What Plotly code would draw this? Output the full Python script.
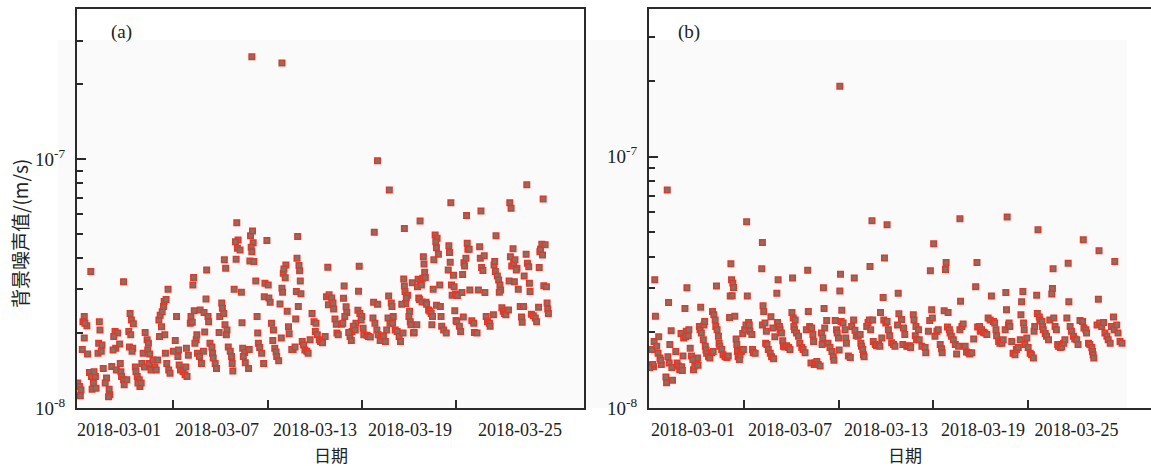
import pandas as pd
import plotly.graph_objects as go

# ---------------- data (hours since 2018-02-22 00:00, values in units of 1e-8 m/s) -------------
START = "2018-02-22"

hours_a = [32,30,36,32,29,37,22,25,27,26,42,33,40,43,46,44,50,55,56,54,59,53,58,61,66,64,70,71,69,49,47,
           79,83,77,80,76,86,74,81,87,88,89,92,93,97,92,102,104,107,100,103,101,106,105,
           110,111,113,116,117,122,125,128,130,129,132,120,124,131,134,114,119,
           140,142,137,144,147,150,146,148,151,153,154,157,155,156,160,158,161,163,
           171,173,168,176,175,177,179,183,186,189,187,191,188,199,198,203,201,194,195,200,197,
           204,205,208,211,214,209,215,219,218,221,222,216,224,227,228,229,232,234,
           238,239,242,243,245,247,250,249,252,255,257,258,259,246,248,264,265,267,263,266,270,261,272,273,
           274,277,275,278,283,284,286,289,290,287,288,285,291,294,296,297,298,300,303,306,311,308,313,
           307,314,316,318,321,320,323,325,326,329,331,334,335,336,340,339,337,342,344,345,333,
           351,349,354,358,357,360,361,362,356,363,359,355,365,367,369,372,374,377,
           380,383,386,385,388,391,393,396,400,402,404,405,406,
           288,334,
           410,413,412,429,428,432,433,430,415,417,418,420,425,427,
           452,451,450,453,456,455,447,443,441,438,440,436,446,458,459,464,466,469,
           475,474,480,473,476,479,481,486,484,489,492,498,480,497,501,502,496,499,504,503,494,
           507,510,513,515,519,521,520,521,522,526,524,523,517,529,528,530,531,535,536,540,533,545,
           542,546,541,549,547,550,551,552,553,543,544,548,554,555,558,560,562,564,563,568,571,569,570,573,
           566,565,570,575,576,577,578,581,585,
           592,589,590,591,588,596,593,597,594,599,602,609,598,600,601,605,607,611,610,612,613,615,616,617,618,620,
           621,624,627,628,632,634,636,638,637,639,641,643,644,646,648,651,652,657,
           661,658,660,659,663,665,667,668,666,670,672,674,676,680,682,684,681,687,683,685,688,690,689,
           693,692,695,698,700,701,703,704,708,707,709,711,712,713,715,718,721,723,726,727,728,729,731,732,733,
           734,736,738,739,740,741]
vals_a = [2.33,2.22,2.14,1.91,1.72,1.65,1.26,1.22,1.18,1.12,3.54,2.19,1.39,1.34,1.26,1.19,1.20,2.22,2.06,1.82,1.79,1.66,1.69,1.44,1.32,1.26,1.19,1.13,1.11,1.34,1.40,
          2.03,2.00,1.94,1.74,1.71,1.81,1.47,1.42,1.51,1.40,1.34,1.30,1.24,1.30,3.22,2.40,2.26,2.18,2.03,1.97,1.76,1.74,1.69,
          1.46,1.40,1.34,1.30,1.22,1.66,2.01,1.88,1.82,1.71,1.65,1.51,1.46,1.51,1.42,1.26,1.26,
          1.46,1.42,1.56,1.56,1.94,2.12,2.26,2.36,2.44,2.56,2.68,2.73,1.97,1.66,3.00,1.51,1.42,1.38,
          1.87,2.33,1.69,1.71,1.61,1.49,1.42,1.40,1.36,1.34,1.46,1.63,1.74,3.35,3.12,1.88,1.82,2.19,2.33,2.46,2.21,
          1.97,1.66,1.61,1.51,1.69,2.48,2.42,3.59,2.74,2.33,2.22,2.02,1.82,1.76,1.66,1.59,1.51,1.44,
          2.01,2.33,2.64,2.52,2.40,2.16,2.06,1.97,1.76,1.69,1.61,1.51,1.41,3.94,3.65,3.96,5.56,4.74,4.66,4.39,4.32,3.00,2.92,2.20,
          1.74,1.67,1.61,1.52,1.44,1.72,4.92,5.15,4.62,4.43,4.25,3.90,3.88,3.24,2.33,2.00,1.82,1.75,1.66,1.51,4.71,3.17,3.12,
          2.80,2.77,2.66,2.19,2.06,1.87,1.74,1.68,1.61,1.55,2.62,3.03,2.92,3.48,3.76,3.34,3.62,2.45,2.12,1.99,1.91,
          1.72,1.72,1.76,4.89,4.00,3.74,3.56,3.24,2.94,2.88,2.56,2.28,1.85,1.79,1.71,1.69,1.66,1.88,
          2.40,2.22,2.19,2.03,1.97,1.88,1.85,1.83,1.94,2.80,3.68,2.60,2.85,
          25.8,24.4,
          2.77,2.50,2.64,3.09,2.76,2.55,2.42,2.33,2.28,2.17,2.00,1.97,2.17,2.19,
          3.71,2.95,2.47,2.40,2.33,2.26,2.19,2.13,2.03,1.94,1.87,2.01,2.06,2.09,1.97,1.96,1.94,1.93,
          5.09,2.66,2.61,2.30,2.19,2.06,1.97,1.95,1.87,1.94,1.85,7.53,9.87,2.82,2.64,2.56,2.30,2.19,2.33,2.19,2.06,
          2.06,2.03,1.94,1.85,2.00,5.27,3.30,3.09,2.94,2.84,2.77,2.63,2.61,2.45,2.33,2.22,2.16,2.00,2.01,2.16,3.19,5.64,
          3.29,3.24,3.07,3.32,3.12,4.06,3.79,3.51,3.35,2.77,2.73,2.67,2.66,2.61,2.48,2.45,2.40,2.33,2.16,4.96,4.81,4.66,4.41,4.15,
          3.94,3.00,2.59,3.12,2.56,2.33,2.13,2.06,2.00,
          6.69,4.49,4.22,3.85,3.59,3.42,3.12,3.07,2.84,2.87,2.83,2.91,2.46,2.25,2.22,2.13,2.03,2.32,3.44,3.84,3.72,4.00,5.94,4.59,4.35,4.35,
          2.98,2.24,2.19,2.01,2.00,2.98,4.45,6.20,4.00,3.67,3.57,4.09,2.91,2.33,2.22,2.19,2.13,2.37,
          4.92,3.76,3.54,3.88,3.39,3.27,3.12,2.98,2.92,2.53,2.45,2.40,2.37,2.48,6.69,6.35,3.24,4.37,4.06,3.72,3.82,3.94,3.22,
          3.65,3.59,3.00,2.56,2.32,2.21,2.56,3.39,7.90,4.15,3.82,3.70,3.17,2.94,2.38,2.35,2.30,2.22,2.54,3.67,4.25,4.35,4.55,4.12,6.92,
          3.10,4.53,3.07,2.64,2.50,2.40]

hours_b = [22,26,30,29,24,32,33,31,28,35,37,38,40,42,41,49,50,53,55,57,52,54,58,59,
           64,66,68,70,73,74,75,72,76,79,80,83,84,78,81,86,88,91,93,96,98,97,90,
           100,101,102,103,106,107,108,109,110,111,114,116,119,121,120,122,124,125,126,127,129,130,131,134,136,139,142,144,
           148,149,151,152,147,150,146,154,156,157,158,159,161,162,164,167,166,169,171,173,175,176,177,180,181,182,185,
           196,195,197,198,196,200,202,201,203,205,208,210,213,209,212,215,218,220,219,222,223,225,227,228,230,233,236,238,
           242,241,243,246,244,245,248,251,253,256,258,261,263,266,265,268,271,273,274,270,275,276,279,281,284,
           289,290,286,288,287,291,294,296,299,302,304,305,307,309,310,312,313,314,315,317,316,
           319,322,323,324,327,330,332,335,336,337,339,342,345,346,347,349,350,351,355,357,359,360,361,364,
           365,368,370,373,375,378,376,380,382,381,384,386,388,390,393,396,398,403,404,402,
           408,411,413,410,416,418,421,422,426,427,430,434,429,431,435,439,444,445,449,452,454,451,455,457,459,462,464,467,469,470,
           473,476,475,478,479,481,482,484,487,490,492,495,497,498,500,502,505,507,510,512,515,
           518,521,523,524,527,528,530,533,535,538,540,543,545,548,550,552,553,556,558,561,563,566,567,568,571,572,573,576,578,581,583,
           586,589,590,591,593,594,595,596,599,601,604,606,609,610,611,614,616,615,618,619,622,623,624,627,629,632,634,637,638,639,640,642,644,
           646,647,650,652,655,657,660,662,663,665,667,670,672,675,677,680,684,685,686,689,690,693,695,698,699,700,701,
           706,708,709,710,713,716,718,721,723,726,728,731,732,733,736,738,741,744,
           51,314,172,363,386,497,569]
vals_b = [1.47,1.48,1.46,1.49,1.45,3.24,2.32,1.84,1.71,1.76,1.65,1.92,1.58,1.49,1.55,1.33,1.26,2.63,1.79,2.03,1.60,1.51,1.45,1.29,
          1.68,1.51,1.47,1.42,1.46,1.41,1.61,1.98,1.90,1.92,2.02,1.94,2.05,2.49,3.01,1.73,1.61,1.42,1.47,1.53,1.48,1.58,1.56,
          2.11,2.05,2.52,1.99,1.87,2.14,2.21,1.76,1.70,1.65,1.60,1.58,1.66,1.68,2.42,2.35,2.24,2.11,3.06,2.05,1.93,1.81,1.76,1.71,1.63,1.60,1.59,1.61,
          3.75,3.24,3.14,3.02,2.79,2.80,2.29,2.32,1.88,1.79,1.68,1.60,1.56,1.63,1.68,1.71,1.98,2.05,2.14,2.79,2.19,2.14,2.02,1.96,1.71,1.66,1.65,
          4.56,3.58,2.55,2.42,2.14,2.18,2.02,1.81,1.79,1.71,1.65,1.60,1.57,2.31,2.08,1.92,2.86,3.24,2.19,2.11,2.05,1.99,1.85,1.76,1.75,1.77,1.74,1.71,
          3.29,2.40,2.28,2.24,2.11,2.05,1.99,1.93,1.81,1.74,1.71,1.66,2.05,2.42,3.53,2.11,2.08,1.96,1.84,1.51,1.49,1.51,1.53,1.49,1.47,
          3.01,2.49,1.99,1.90,1.79,2.08,2.23,1.81,1.74,1.68,1.60,1.55,2.23,2.05,1.99,1.90,1.70,2.92,3.41,2.45,2.21,
          2.18,2.05,1.90,1.81,1.61,1.59,2.11,2.24,3.29,2.04,1.94,1.93,1.96,1.81,1.76,1.71,1.63,1.60,2.11,2.19,2.24,3.66,2.05,2.24,
          1.84,1.79,1.77,1.79,1.76,1.90,2.40,2.75,3.95,2.24,2.18,2.21,2.05,1.94,1.82,1.79,1.76,2.86,2.37,2.14,
          2.25,2.08,1.96,1.79,1.76,1.76,1.77,1.74,2.35,2.24,2.11,2.05,1.94,1.87,1.87,1.76,1.74,1.66,2.02,3.52,2.46,2.23,2.28,4.50,1.93,2.02,2.05,1.79,1.72,1.66,
          2.44,3.79,3.56,2.10,2.40,2.05,1.99,1.93,1.87,1.79,1.64,1.76,2.05,2.66,2.11,2.16,1.76,1.67,1.66,1.64,1.66,
          1.88,3.04,3.79,2.10,2.11,2.02,2.05,2.00,1.99,1.96,2.28,2.24,2.79,2.21,2.18,2.05,1.94,1.84,1.81,1.81,1.87,2.05,2.88,2.46,2.14,2.18,2.11,1.84,1.65,1.63,1.71,
          1.74,1.87,2.35,2.65,2.91,2.18,2.05,1.79,1.90,1.74,1.65,1.63,1.58,2.02,2.11,2.81,5.12,2.38,2.30,2.24,2.21,2.11,2.05,1.98,1.93,1.87,2.24,2.84,2.99,3.58,2.28,2.11,2.05,
          1.79,1.76,1.74,1.75,1.81,1.87,2.28,3.77,2.65,2.11,2.02,1.93,1.88,1.87,1.79,2.23,2.21,4.67,2.08,2.05,1.99,1.81,1.79,1.74,1.68,1.63,1.58,
          2.14,2.71,4.23,2.18,2.11,2.19,1.99,1.93,1.87,1.81,2.11,2.30,2.05,3.83,2.14,1.99,1.84,1.81,
          7.38,19.1,5.51,5.56,5.36,5.66,5.76]

x_tick_text = ["2018-03-01", "2018-03-07", "2018-03-13", "2018-03-19", "2018-03-25"]
x_tick_days = ["2018-03-01", "2018-03-07", "2018-03-13", "2018-03-19"]
y_label_vals = [1e-8, 1e-7]
y_label_text = ["10<sup>-8</sup>", "10<sup>-7</sup>"]
y_minor_vals = [2e-8, 3e-8, 4e-8, 5e-8, 6e-8, 7e-8, 8e-8, 9e-8, 2e-7, 3e-7]

# ---------------- helpers -------------
base = pd.Timestamp(START)
def t(h):
    return base + pd.to_timedelta(h, unit="h")

xa = [t(h) for h in hours_a]
xb = [t(h) for h in hours_b]
ya = [v * 1e-8 for v in vals_a]
yb = [v * 1e-8 for v in vals_b]

W, H = 1151, 466
L_A, R_A, L_B, R_B = 77, 584, 649, 1151
TOP, BOT = 9, 408

marker = dict(symbol="square", size=5.5, color="#6e7b73",
              line=dict(color="#e93524", width=1.5))

fig = go.Figure()
fig.add_trace(go.Scatter(x=xa, y=ya, mode="markers", marker=marker,
                         xaxis="x", yaxis="y", showlegend=False, hoverinfo="skip"))
fig.add_trace(go.Scatter(x=xb, y=yb, mode="markers", marker=marker,
                         xaxis="x2", yaxis="y2", showlegend=False, hoverinfo="skip"))

serif = "Liberation Serif"
cjk = "Noto Sans CJK SC"
axcol = "#2a2a2a"

def xaxis(domain, rng, label_hours, mirror):
    return dict(domain=domain, type="date", range=[t(rng[0]), t(rng[1])],
                showline=True, linecolor=axcol, linewidth=2, mirror=mirror,
                showgrid=False, zeroline=False,
                tickmode="array", tickvals=[t(h) for h in label_hours], ticktext=x_tick_text,
                ticks="", ticklabelstandoff=4,
                tickfont=dict(family=serif, size=18, color="#222"),
                minor=dict(tickmode="array", tickvals=[pd.Timestamp(d) for d in x_tick_days],
                           ticks="inside", ticklen=8, tickwidth=1.5, tickcolor=axcol, showgrid=False))

def yaxis(anchor, rng_top, mirror):
    return dict(domain=[0, 1], type="log", range=[-8, rng_top], anchor=anchor,
                showline=True, linecolor=axcol, linewidth=2, mirror=mirror,
                showgrid=False, zeroline=False,
                tickmode="array", tickvals=y_label_vals, ticktext=y_label_text,
                ticks="inside", ticklen=9, tickwidth=1.5, tickcolor=axcol,
                ticklabelstandoff=6,
                tickfont=dict(family=serif, size=19, color="#222"),
                minor=dict(tickmode="array", tickvals=y_minor_vals,
                           ticks="inside", ticklen=6, tickwidth=1.5, tickcolor=axcol, showgrid=False))

fig.update_layout(
    width=W, height=H,
    margin=dict(l=0, r=0, t=TOP, b=H - BOT, pad=0),
    paper_bgcolor="white", plot_bgcolor="rgba(0,0,0,0)",
    font=dict(family=serif, color="#222"),
    xaxis=xaxis([L_A / W, R_A / W], (20.9, 795.4), [85.0, 234.8, 384.5, 529.7, 697.8], True),
    yaxis=yaxis("x", -6.396, True),
    xaxis2=xaxis([L_B / W, 1.0], (23.2, 788.2), [90.3, 238.1, 384.4, 532.2, 674.7], True),
    yaxis2=yaxis("x2", -6.412, False),
)
fig.layout.xaxis2.anchor = "y2"
fig.layout.xaxis.anchor = "y"

def py(p):
    return (BOT - p) / (BOT - TOP)

fig.add_shape(type="rect", xref="paper", yref="paper", x0=58 / W, x1=1127 / W,
              y0=py(408), y1=py(40), fillcolor="#fafafa", line=dict(width=0), layer="below")

ann = [
    dict(text="(a)", x=121 / W, y=py(32), font=dict(family=serif, size=19, color="#222")),
    dict(text="(b)", x=689 / W, y=py(32), font=dict(family=serif, size=19, color="#222")),
    dict(text="日期", x=331 / W, y=py(454), font=dict(family=cjk, size=17, color="#222")),
    dict(text="日期", x=905 / W, y=py(454), font=dict(family=cjk, size=17, color="#222")),
    dict(text="背景噪声值/(m/s)", x=19 / W, y=py(234), textangle=-90,
         font=dict(family=cjk, size=19, color="#222")),
]
for a in ann:
    fig.add_annotation(xref="paper", yref="paper", showarrow=False,
                       xanchor="center", yanchor="middle", **a)

fig.write_html("out.html")
